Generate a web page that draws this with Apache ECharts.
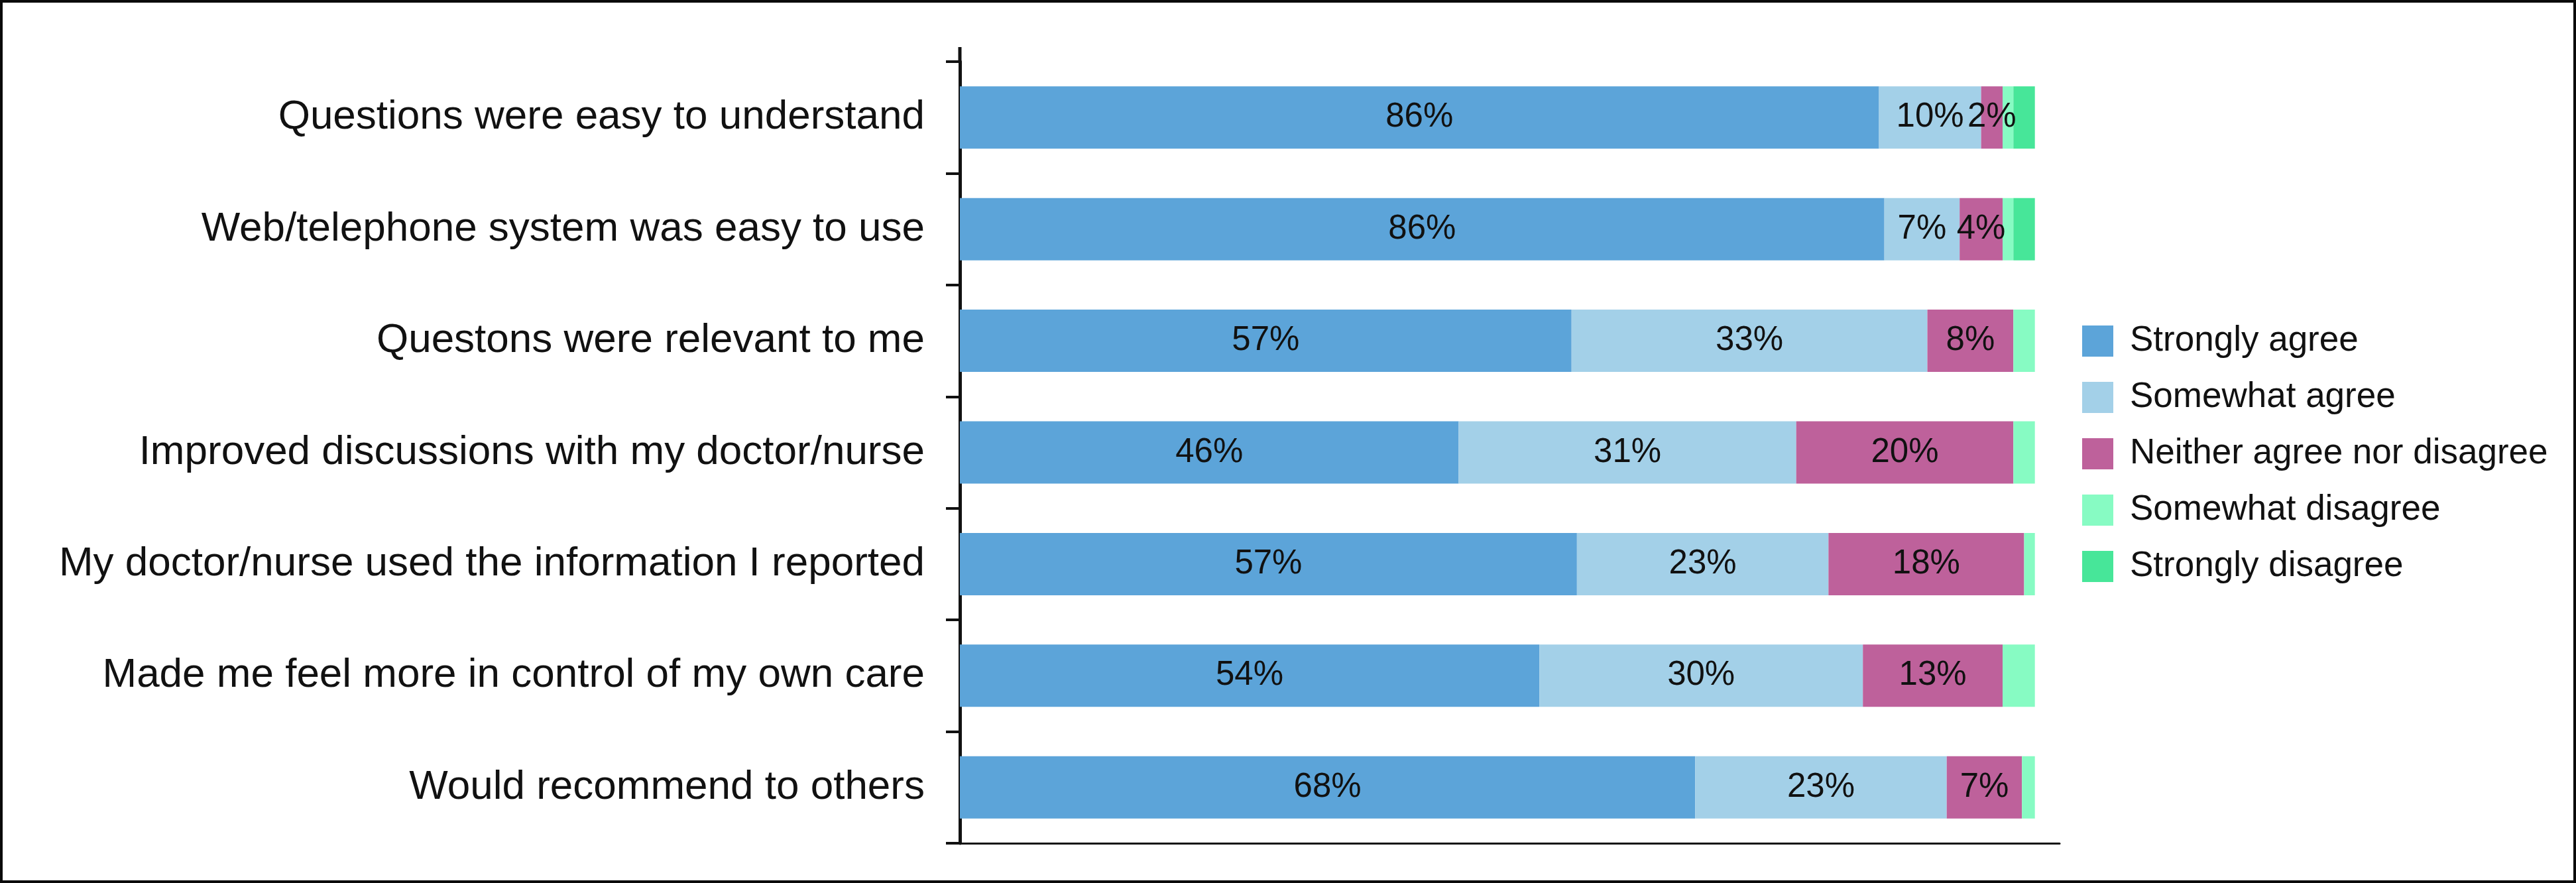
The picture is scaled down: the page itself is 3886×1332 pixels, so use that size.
<!DOCTYPE html>
<html>
<head>
<meta charset="utf-8">
<script src="https://cdn.jsdelivr.net/npm/echarts@6/dist/echarts.min.js"></script>
<style>
	html, body { margin: 0; padding: 0; background: #fff; }
	#chart { position: absolute; left: 0; top: 0; width: 3886px; height: 1332px; }
	/* black frame round the whole figure */
	#frame { position: absolute; left: 0; top: 0; width: 3886px; height: 1332px; box-sizing: border-box; border: 4px solid #0a0a0a; pointer-events: none; }
</style>
</head>
<body>
<div id="chart"></div>
<div id="frame"></div>
<script>
// 数据
const categories = [
	'Questions were easy to understand',
	'Web/telephone system was easy to use',
	'Questons were relevant to me',
	'Improved discussions with my doctor/nurse',
	'My doctor/nurse used the information I reported',
	'Made me feel more in control of my own care',
	'Would recommend to others'
];
const seriesNames = ['Strongly agree', 'Somewhat agree', 'Neither agree nor disagree', 'Somewhat disagree', 'Strongly disagree'];
const strongAgree = [85.5, 86.0, 56.9, 46.4, 57.4, 53.9, 68.4];
const someAgree = [9.5, 7.0, 33.1, 31.4, 23.4, 30.1, 23.4];
const neither = [2.0, 4.0, 8.0, 20.2, 18.2, 13.0, 7.0];
const someDisagree = [1.0, 1.0, 2.0, 2.0, 1.0, 3.0, 1.2];
const strongDisagree = [2.0, 2.0, 0, 0, 0, 0, 0];

const colors = ['#5ca4d9', '#a3d0e8', '#be619b', '#87fbc3', '#47e699'];
const font = '"Liberation Sans", Arial, Helvetica, sans-serif';

// 布局
const gridLeft = 1448;
const gridTop = 93;
const gridWidth = 1659;
const gridHeight = 1179;

const chart = echarts.init(document.getElementById('chart'), null, { renderer: 'canvas' });

function makeSeries(name, data, color, withLabel) {
	return {
		name: name,
		type: 'bar',
		stack: 'total',
		data: data,
		barWidth: 94,
		itemStyle: { color: color },
		label: {
			show: withLabel,
			position: 'inside',
			color: '#111',
			fontSize: 51,
			fontFamily: font,
			formatter: (p) => Math.round(p.value) + '%'
		},
		emphasis: { disabled: true }
	};
}

const option = {
	animation: false,
	backgroundColor: '#fff',
	color: colors,
	grid: {
		left: gridLeft,
		top: gridTop,
		width: gridWidth,
		height: gridHeight,
		containLabel: false,
		outerBoundsMode: 'none'
	},
	legend: {
		orient: 'vertical',
		left: 3141,
		top: 488,
		padding: 0,
		itemWidth: 47,
		itemHeight: 47,
		itemGap: 32,
		icon: 'rect',
		data: seriesNames,
		textStyle: {
			fontSize: 53,
			color: '#111',
			fontFamily: font,
			padding: [0, 0, 0, 20]
		}
	},
	xAxis: {
		type: 'value',
		min: 0,
		max: 102.3,
		axisLine: { show: true, lineStyle: { color: '#111', width: 3 } },
		axisTick: { show: false },
		axisLabel: { show: false },
		splitLine: { show: false }
	},
	yAxis: {
		type: 'category',
		inverse: true,
		data: categories,
		axisLine: { show: true, lineStyle: { color: '#111', width: 5 } },
		axisTick: { show: true, length: 21, lineStyle: { color: '#111', width: 4 } },
		axisLabel: {
			color: '#111',
			fontSize: 62,
			fontFamily: font,
			margin: 53
		}
	},
	// 纵轴线向上多出一截
	graphic: [
		{
			type: 'line',
			shape: { x1: gridLeft, y1: gridTop - 22, x2: gridLeft, y2: gridTop },
			style: { stroke: '#111', lineWidth: 5 }
		}
	],
	series: [
		makeSeries(seriesNames[0], strongAgree, colors[0], true),
		makeSeries(seriesNames[1], someAgree, colors[1], true),
		makeSeries(seriesNames[2], neither, colors[2], true),
		makeSeries(seriesNames[3], someDisagree, colors[3], false),
		makeSeries(seriesNames[4], strongDisagree, colors[4], false)
	]
};
chart.setOption(option);
</script>
</body>
</html>
